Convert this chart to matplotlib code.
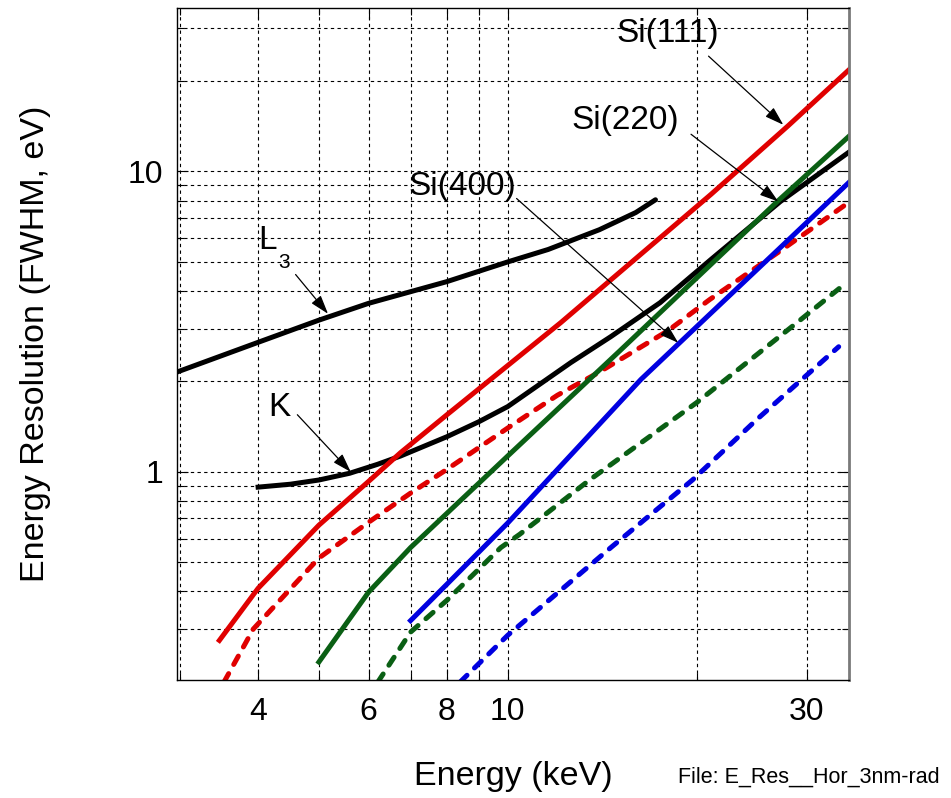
import matplotlib
matplotlib.use('Agg')
import matplotlib.pyplot as plt
from matplotlib.ticker import FixedLocator, NullFormatter, FixedFormatter

plt.rcParams['font.family'] = ['Liberation Sans', 'DejaVu Sans']
plt.rcParams['font.size'] = 23

# data (E in keV, resolution in eV)
L3_E = [2.97, 4, 5, 6, 7, 8, 10, 11.6, 14, 16, 17.2]
L3_y = [2.15, 2.70, 3.20, 3.64, 3.98, 4.30, 5.0, 5.5, 6.4, 7.3, 8.05]

K_E = [4, 4.5, 5, 5.6, 6.2, 6.75, 8, 9, 10, 12.6, 14.6, 17.5, 21.1, 27.2, 35]
K_y = [0.89, 0.91, 0.94, 0.99, 1.06, 1.13, 1.31, 1.47, 1.65, 2.31, 2.82, 3.66, 5.1, 7.94, 11.6]

si111_E = [3.47, 4, 5, 6, 6.75, 8, 10, 12.15, 16, 21.1, 28, 35]
si111_y = [0.275, 0.41, 0.665, 0.93, 1.16, 1.55, 2.26, 3.14, 5.13, 8.4, 14.2, 21.8]
si111d_E = [3.53, 3.93, 5, 6, 7, 8, 10, 12, 14, 18, 21, 27.4, 35]
si111d_y = [0.2, 0.30, 0.517, 0.68, 0.85, 1.02, 1.40, 1.80, 2.15, 2.95, 3.75, 5.5, 7.9]

si220_E = [5, 6, 7, 10, 15, 20.3, 27, 35]
si220_y = [0.233, 0.398, 0.56, 1.13, 2.5, 4.55, 8.0, 13.1]
si220d_E = [6.21, 7, 8, 9.75, 10.45, 13.5, 20, 29.3, 34.7]
si220d_y = [0.2, 0.293, 0.374, 0.56, 0.62, 0.94, 1.70, 3.21, 4.27]

si400_E = [7, 8, 10, 13, 16.3, 21, 27, 35]
si400_y = [0.32, 0.423, 0.676, 1.22, 2.03, 3.35, 5.5, 9.2]
si400d_E = [8.4, 10, 14.6, 19.7, 25, 33.7]
si400d_y = [0.2, 0.286, 0.56, 0.94, 1.5, 2.61]

red = '#e00000'
green = '#0a5f14'
blue = '#0000e0'

fig = plt.figure(figsize=(9.51, 7.98), dpi=100)
ax = fig.add_axes([177/951, 1-680/798, (849-177)/951, (680-8)/798])
ax.set_xscale('log')
ax.set_yscale('log')
ax.set_xlim(2.97, 35)
ax.set_ylim(0.203, 35)

lw = 3.6
dash = dict(linestyle=(0, (1.9, 2.1)), dash_capstyle='round')
ax.plot(L3_E, L3_y, color='black', lw=lw, solid_capstyle='round')
ax.plot(K_E, K_y, color='black', lw=lw)
ax.plot(si111_E, si111_y, color=red, lw=lw)
ax.plot(si111d_E, si111d_y, color=red, lw=lw, **dash)
ax.plot(si220_E, si220_y, color=green, lw=lw)
ax.plot(si220d_E, si220d_y, color=green, lw=lw, **dash)
ax.plot(si400_E, si400_y, color=blue, lw=lw)
ax.plot(si400d_E, si400d_y, color=blue, lw=lw, **dash)

# ticks and grid
ax.xaxis.set_major_locator(FixedLocator([4, 6, 8, 10, 30]))
ax.xaxis.set_major_formatter(FixedFormatter(['4', '6', '8', '10', '30']))
ax.xaxis.set_minor_locator(FixedLocator([3, 5, 7, 9, 20]))
ax.xaxis.set_minor_formatter(NullFormatter())
ax.yaxis.set_major_locator(FixedLocator([1, 10]))
ax.yaxis.set_major_formatter(FixedFormatter(['1', '10']))
ax.yaxis.set_minor_locator(FixedLocator([0.2, 0.3, 0.4, 0.5, 0.6, 0.7, 0.8, 0.9,
                                         2, 3, 4, 5, 6, 7, 8, 9, 20, 30]))
ax.yaxis.set_minor_formatter(NullFormatter())
ax.tick_params(which='both', direction='in', top=True, right=True, width=0.8)
ax.tick_params(which='major', length=8, labelsize=23)
ax.tick_params(which='minor', length=5)
ax.tick_params(axis='x', which='major', pad=12)
ax.tick_params(axis='y', which='major', pad=10)
ax.grid(True, which='both', color='black', lw=0.8, linestyle=(0, (3, 3)))
ax.set_axisbelow(True)

for s in ['left', 'bottom', 'top']:
    ax.spines[s].set_linewidth(1.0)
ax.spines['right'].set_color('#7a7a7a')
ax.spines['right'].set_linewidth(2.0)

ax.set_xlabel('Energy (keV)', fontsize=24.5, labelpad=25)
ax.set_ylabel('Energy Resolution (FWHM, eV)', fontsize=24.5, labelpad=55)

arrow = dict(arrowstyle='-|>,head_length=0.5,head_width=0.16', color='black', lw=0.9,
             shrinkA=0, shrinkB=0)
ax.annotate('', xy=(27.5, 14.3), xytext=(20.9, 24.2), arrowprops=arrow)
ax.annotate('', xy=(27.0, 7.94), xytext=(19.6, 13.3), arrowprops=arrow)
ax.annotate('', xy=(18.7, 2.69), xytext=(10.33, 8.13), arrowprops=arrow)
ax.annotate('', xy=(5.17, 3.36), xytext=(4.59, 4.54), arrowprops=arrow)
ax.annotate('', xy=(5.62, 1.00), xytext=(4.62, 1.55), arrowprops=arrow)

ax.text(18.0, 26.9, 'Si(111)', ha='center', va='baseline', fontsize=24)
ax.text(15.4, 13.8, 'Si(220)', ha='center', va='baseline', fontsize=24)
ax.text(8.45, 8.38, 'Si(400)', ha='center', va='baseline', fontsize=24)
ax.text(4.32, 1.54, 'K', ha='center', va='baseline', fontsize=24)
ax.text(4.0, 5.5, 'L', ha='left', va='baseline', fontsize=24)
ax.text(4.30, 4.79, '3', ha='left', va='baseline', fontsize=15)

fig.text(678/951, 1-783/798, 'File: E_Res__Hor_3nm-rad', fontsize=15.5, ha='left', va='baseline')

fig.savefig('out.png', dpi=100)
